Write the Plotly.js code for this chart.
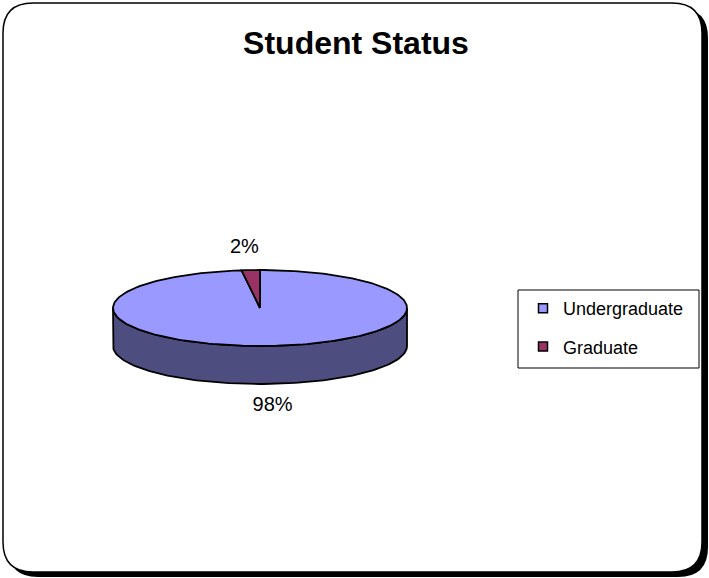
<!DOCTYPE html>
<html>
<head>
<meta charset="utf-8">
<script src="https://cdn.plot.ly/plotly-3.0.1.min.js"></script>
<style>html,body{margin:0;padding:0;background:#fff;}#chart{width:709px;height:578px;}</style>
</head>
<body>
<div id="chart"></div>
<script>
// ---- data ----
const categories = ['Undergraduate', 'Graduate'];
const values = [98, 2];
const pctLabels = ['98%', '2%'];
const topColors = ['#9999FF', '#993366'];
const sideColors = ['#4D4D80', '#4D1A33'];
const chartTitle = 'Student Status';

// ---- geometry (styling / projection constants) ----
const W = 709, H = 578;
const cx = 260, cy = 308, rx = 147, ry = 38, depth = 38;
const FONT = 'Liberation Sans, Arial, sans-serif';

function pt(deg, dz) {
  const t = deg * Math.PI / 180;
  return [cx + rx * Math.sin(t), cy - ry * Math.cos(t) + (dz || 0)];
}
function arc(a0, a1, dz) {
  const xs = [], ys = [];
  const n = Math.max(2, Math.ceil(Math.abs(a1 - a0) / 1.5));
  for (let i = 0; i <= n; i++) {
    const p = pt(a0 + (a1 - a0) * i / n, dz);
    xs.push(p[0]); ys.push(p[1]);
  }
  return [xs, ys];
}

const total = values.reduce((a, b) => a + b, 0);
const slices = [];
let acc = 0;
values.forEach((v, i) => {
  const a0 = acc / total * 360;
  acc += v;
  const a1 = acc / total * 360;
  slices.push({a0, a1, i});
});

const traces = [];
// side walls (front half: 90..270 degrees)
slices.forEach(s => {
  const lo = Math.max(s.a0, 90), hi = Math.min(s.a1, 270);
  if (hi > lo) {
    const top = arc(lo, hi, 0);
    const bot = arc(hi, lo, depth);
    const xs = top[0].concat(bot[0], [top[0][0]]);
    const ys = top[1].concat(bot[1], [top[1][0]]);
    traces.push({type: 'scatter', mode: 'lines', x: xs, y: ys, fill: 'toself',
      fillcolor: sideColors[s.i], line: {color: '#000', width: 1.8},
      showlegend: false, hoverinfo: 'skip'});
  }
});
// top faces
slices.forEach(s => {
  const a = arc(s.a0, s.a1, 0);
  const xs = [cx].concat(a[0], [cx]);
  const ys = [cy].concat(a[1], [cy]);
  traces.push({type: 'scatter', mode: 'lines', x: xs, y: ys, fill: 'toself',
    fillcolor: topColors[s.i], line: {color: '#000', width: 1.8},
    showlegend: false, hoverinfo: 'skip', name: categories[s.i]});
});
// percentage labels
const off = 22;
slices.forEach(s => {
  const mid = (s.a0 + s.a1) / 2;
  const t = mid * Math.PI / 180;
  const x = cx + (rx + off) * Math.sin(t) + (Math.cos(t) < 0 ? 2 : -5);
  const y = cy - (ry + off) * Math.cos(t) + (Math.cos(t) < 0 ? depth : 0);
  traces.push({type: 'scatter', mode: 'text', x: [x], y: [y], text: [pctLabels[s.i]],
    textposition: 'middle center', textfont: {family: FONT, size: 20, color: '#000'},
    showlegend: false, hoverinfo: 'skip'});
});
// legend entries
categories.forEach((c, i) => {
  traces.push({type: 'scatter', mode: 'markers', x: [null], y: [null], name: c,
    legendgroup: 'g' + i,
    marker: {symbol: 'square', size: 9, color: topColors[i], line: {color: '#000', width: 1.5}}});
});

function rr(x0, y0, x1, y1, r) {
  return `M${x0 + r},${y0} L${x1 - r},${y0} Q${x1},${y0} ${x1},${y0 + r} L${x1},${y1 - r} Q${x1},${y1} ${x1 - r},${y1} L${x0 + r},${y1} Q${x0},${y1} ${x0},${y1 - r} L${x0},${y0 + r} Q${x0},${y0} ${x0 + r},${y0} Z`;
}

const layout = {
  width: W, height: H, autosize: false,
  margin: {l: 0, r: 0, t: 0, b: 0, pad: 0},
  paper_bgcolor: '#fff', plot_bgcolor: 'rgba(0,0,0,0)',
  xaxis: {range: [0, W], visible: false, fixedrange: true},
  yaxis: {range: [H, 0], visible: false, fixedrange: true},
  title: {text: '<b>' + chartTitle + '</b>', font: {family: FONT, size: 32, color: '#000'},
    x: 356 / W, xanchor: 'center', y: 1 - 43 / H, yanchor: 'middle'},
  showlegend: true,
  legend: {x: 523 / W, y: 1 - 290 / H, xanchor: 'left', yanchor: 'top',
    borderwidth: 0, bgcolor: 'rgba(0,0,0,0)',
    font: {family: FONT, size: 18, color: '#000'}, tracegroupgap: 12, traceorder: 'grouped'},
  shapes: [
    {type: 'path', layer: 'below', xref: 'x', yref: 'y', path: rr(8, 8, 708, 577, 30),
      fillcolor: '#000', line: {width: 0}},
    {type: 'path', layer: 'below', xref: 'x', yref: 'y', path: rr(3, 3, 702, 572, 30),
      fillcolor: '#fff', line: {color: '#000', width: 1.5}},
    {type: 'rect', layer: 'below', xref: 'x', yref: 'y', x0: 518, x1: 699, y0: 290, y1: 368,
      fillcolor: '#fff', line: {color: '#000', width: 1}}
  ]
};

Plotly.newPlot('chart', traces, layout, {staticPlot: true, displayModeBar: false});
</script>
</body>
</html>
